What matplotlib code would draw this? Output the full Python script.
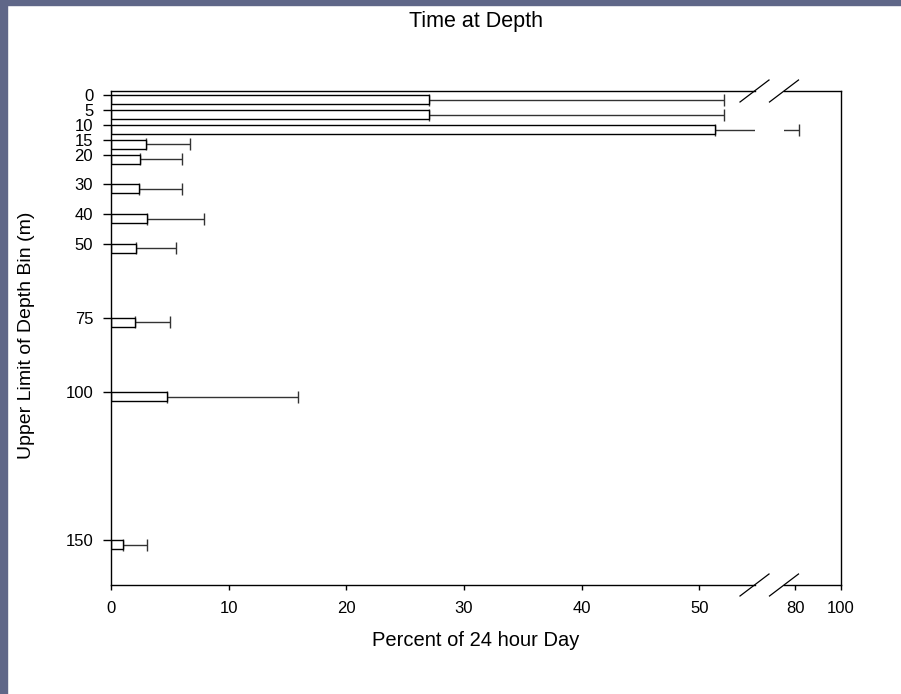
import numpy as np
import matplotlib
matplotlib.use('Agg')
import matplotlib.pyplot as plt
from matplotlib.patches import Rectangle
from matplotlib.lines import Line2D

# depth bins (upper limit, m) and time at depth (% of 24 h day)
depths = [0, 5, 10, 15, 20, 30, 40, 50, 75, 100, 150]
means = [27.0, 27.0, 51.3, 3.0, 2.5, 2.4, 3.1, 2.1, 2.0, 4.8, 1.0]
upper = [52.1, 52.1, 81.6, 6.7, 6.0, 6.0, 7.9, 5.5, 5.0, 15.9, 3.1]
bar_h = 3.0

plt.rcParams['font.family'] = ['Liberation Sans', 'DejaVu Sans']

W, H = 901, 694
fig = plt.figure(figsize=(W / 100, H / 100), dpi=100)

# window frame strips
frame_col = '#5f6788'
fig.add_artist(Rectangle((0, 0), 7 / W, 1, transform=fig.transFigure, color=frame_col, zorder=0))
fig.add_artist(Rectangle((0, 1 - 4.5 / H), 1, 4.5 / H, transform=fig.transFigure, color=frame_col, zorder=0))

# axes placement in pixels
left, mid1, mid2, right = 111, 754.5, 784, 841
top, bottom = 91, 585
ax1 = fig.add_axes([left / W, 1 - bottom / H, (mid1 - left) / W, (bottom - top) / H])
ax2 = fig.add_axes([mid2 / W, 1 - bottom / H, (right - mid2) / W, (bottom - top) / H])

ycent = [d + bar_h / 2 for d in depths]
err = [u - m for u, m in zip(upper, means)]

for ax in (ax1, ax2):
    ax.barh(ycent, means, height=bar_h, color='white', edgecolor='black', linewidth=1.0, zorder=2)
    ax.errorbar(means, ycent, xerr=[np.zeros(len(err)), err], fmt='none',
                ecolor='#333333', elinewidth=1.0, capsize=4, capthick=1.0, zorder=1)
    ax.set_ylim(165, -1.5)
    for s in ax.spines.values():
        s.set_linewidth(1.0)

ax1.set_xlim(0, 54.7)
ax2.set_xlim(75, 100)
ax1.spines['right'].set_visible(False)
ax2.spines['left'].set_visible(False)

ax1.set_xticks([0, 10, 20, 30, 40, 50])
ax2.set_xticks([80, 100])
ax1.set_yticks(depths)
ax1.set_yticklabels([str(d) for d in depths])
ax2.set_yticks([])

ax1.tick_params(axis='y', direction='out', length=5.8, width=1, pad=7, labelsize=12)
for ax in (ax1, ax2):
    ax.tick_params(axis='x', direction='out', length=3.6, width=1, pad=8, labelsize=12)

# break marks on the top and bottom spines
dx, dy = 14.5, 11
for xc in (mid1, mid2):
    for yc in (top, bottom):
        fig.add_artist(Line2D([(xc - dx) / W, (xc + dx) / W],
                              [1 - (yc + dy) / H, 1 - (yc - dy) / H],
                              transform=fig.transFigure, color='black', lw=0.9))

fig.text((left + right) / 2 / W, 1 - 22 / H, 'Time at Depth', ha='center', va='center', fontsize=15.5)
fig.text((left + right) / 2 / W, 1 - 641 / H, 'Percent of 24 hour Day', ha='center', va='center', fontsize=14.5)
fig.text(27 / W, 1 - 335 / H, 'Upper Limit of Depth Bin (m)', ha='center', va='center',
         rotation=90, fontsize=14, family=['Liberation Sans Narrow', 'Liberation Sans'])

fig.savefig('out.png', dpi=100)
